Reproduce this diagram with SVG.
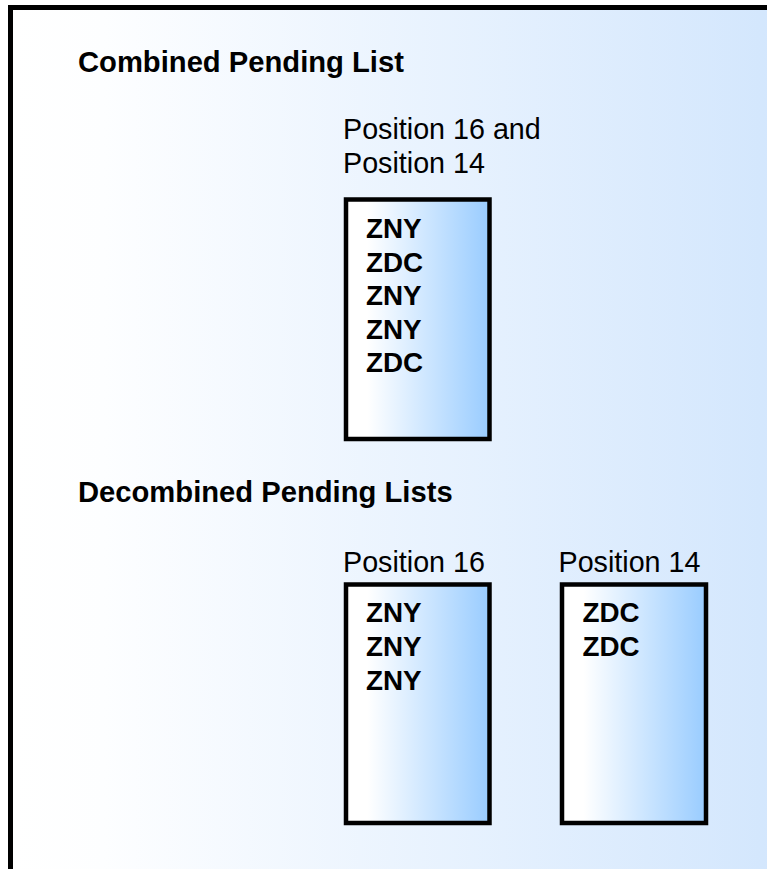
<svg xmlns="http://www.w3.org/2000/svg" width="767" height="869" viewBox="0 0 767 869">
  <defs>
    <linearGradient id="panelFill" x1="0" y1="0" x2="1" y2="0">
      <stop offset="0" stop-color="#ffffff"/>
      <stop offset="0.12" stop-color="#fdfeff"/>
      <stop offset="1" stop-color="#d2e6fd"/>
    </linearGradient>
    <linearGradient id="listFill" x1="0" y1="0" x2="1" y2="0">
      <stop offset="0" stop-color="#ffffff"/>
      <stop offset="0.15" stop-color="#ffffff"/>
      <stop offset="1" stop-color="#99ccff"/>
    </linearGradient>
  </defs>
  <style>
    .heading { font-family: "Liberation Sans", Arial, sans-serif; font-weight: bold; font-size: 29.2px; fill: #000; }
    .caption { font-family: "Liberation Sans", Arial, sans-serif; font-size: 28.7px; fill: #000; }
    .entry { font-family: "Liberation Sans", Arial, sans-serif; font-weight: bold; font-size: 27.8px; fill: #000; }
    .list { fill: url(#listFill); stroke: #000; stroke-width: 4.5; }
  </style>

  <!-- page background -->
  <rect x="0" y="0" width="767" height="869" fill="#ffffff"/>
  <!-- panel with open right and bottom edges -->
  <rect id="panel" x="10.5" y="7.5" width="780" height="880" fill="url(#panelFill)" stroke="#000" stroke-width="5"/>

  <text class="heading" x="78" y="72">Combined Pending List</text>
  <text class="heading" x="78" y="502">Decombined Pending Lists</text>

  <g id="combined">
    <text class="caption" x="343" y="139">Position 16 and</text>
    <text class="caption" x="343" y="173">Position 14</text>
    <rect class="list" x="346" y="199.5" width="143.5" height="239.5"/>
    <text class="entry" x="366" y="238">ZNY</text>
    <text class="entry" x="366" y="271.5">ZDC</text>
    <text class="entry" x="366" y="305">ZNY</text>
    <text class="entry" x="366" y="338.5">ZNY</text>
    <text class="entry" x="366" y="372">ZDC</text>
  </g>

  <g id="position16">
    <text class="caption" x="343" y="572">Position 16</text>
    <rect class="list" x="346" y="584.5" width="143.5" height="238.5"/>
    <text class="entry" x="366" y="622">ZNY</text>
    <text class="entry" x="366" y="656">ZNY</text>
    <text class="entry" x="366" y="690">ZNY</text>
  </g>

  <g id="position14">
    <text class="caption" x="558.5" y="572">Position 14</text>
    <rect class="list" x="562" y="584.5" width="144" height="238.5"/>
    <text class="entry" x="582.5" y="622">ZDC</text>
    <text class="entry" x="582.5" y="656">ZDC</text>
  </g>

  <g id="connectors"/>
</svg>
